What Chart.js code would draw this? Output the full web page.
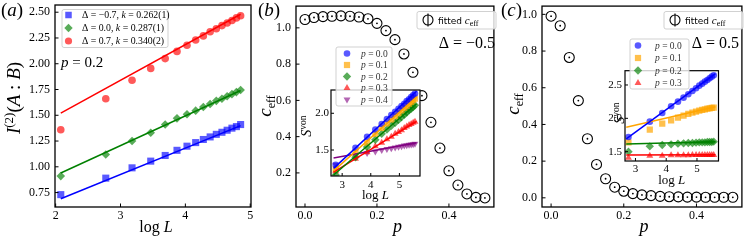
<!DOCTYPE html>
<html><head><meta charset="utf-8">
<script src="https://cdn.jsdelivr.net/npm/chart.js@4"></script>
<style>
html,body{margin:0;padding:0;background:#fff}
body{position:relative;width:748px;height:242px;overflow:hidden}
canvas{position:absolute}
</style></head><body>
<canvas id="ca" width="256" height="242" style="left:0;top:0"></canvas>
<canvas id="cb" width="244" height="242" style="left:256px;top:0"></canvas>
<canvas id="cc" width="248" height="242" style="left:500px;top:0"></canvas>
<canvas id="ib" width="130" height="202" style="left:296px;top:40px"></canvas>
<canvas id="ic" width="135" height="212" style="left:590px;top:30px"></canvas>
<script>
// ---------------- DATA ----------------
// panel (a): x = log L
const logLa = [2.079,2.773,3.178,3.466,3.689,3.871,4.025,4.159,4.277,4.382,4.477,4.564,4.644,4.718,4.787,4.852];
const blueA  = [0.73,0.89,0.99,1.055,1.11,1.16,1.20,1.235,1.265,1.29,1.315,1.335,1.355,1.375,1.39,1.41];
const greenA = [0.91,1.12,1.25,1.33,1.41,1.47,1.51,1.545,1.58,1.61,1.64,1.66,1.685,1.705,1.725,1.745];
const redA   = [1.36,1.66,1.84,1.955,2.05,2.12,2.18,2.23,2.27,2.31,2.34,2.37,2.395,2.42,2.445,2.465];
const fitXa = [2.079,4.852];
const fitBlueA = [0.69,1.40];
const fitGreenA = [0.94,1.74];
const fitRedA = [1.52,2.48];
const legendA = ["Δ = −0.7, ", "Δ = 0.0, ", "Δ = 0.7, "];
const kA = ["0.262(1)", "0.287(1)", "0.340(2)"];
const xTicksA = [2,3,4,5];
const yTicksA = [0.75,1.00,1.25,1.50,1.75,2.00,2.25,2.50];

// panels (b), (c): c_eff vs p
const pVals = [0,0.025,0.05,0.075,0.1,0.125,0.15,0.175,0.2,0.225,0.25,0.275,0.3,0.325,0.35,0.375,0.4,0.425,0.45,0.475,0.5];
const ceffB = [1.046,1.057,1.062,1.064,1.066,1.064,1.06,1.05,1.025,0.985,0.935,0.856,0.755,0.626,0.479,0.337,0.212,0.133,0.084,0.065,0.062];
const ceffC = [0.99,0.938,0.765,0.53,0.322,0.182,0.104,0.058,0.036,0.023,0.016,0.012,0.008,0.006,0.005,0.004,0.004,0.003,0.003,0.003,0.003];
const pTicks = [0.0,0.2,0.4];
const yTicksB = [0.2,0.4,0.6,0.8,1.0];
const yTicksC = [0.0,0.2,0.4,0.6,0.8,1.0];

// insets: S_von vs log L
const logLin = [2.773,3.466,3.871,4.159,4.382,4.564,4.718,4.852,4.970,5.075,5.170,5.257,5.338,5.412,5.481,5.545];
const fitXin = [2.70,5.60];
const inB_p0 = [1.30,1.53,1.68,1.78,1.855,1.92,1.975,2.02,2.06,2.10,2.13,2.165,2.19,2.22,2.245,2.27];
const inB_p1 = [1.24,1.47,1.60,1.72,1.80,1.86,1.915,1.96,2.00,2.04,2.075,2.10,2.13,2.155,2.18,2.20];
const inB_p2 = [1.16,1.40,1.54,1.64,1.72,1.78,1.83,1.87,1.91,1.95,1.98,2.01,2.04,2.06,2.085,2.11];
const inB_p3 = [1.21,1.38,1.47,1.55,1.60,1.645,1.68,1.72,1.745,1.77,1.80,1.82,1.84,1.855,1.87,1.885];
const inB_p4 = [1.30,1.42,1.46,1.48,1.50,1.515,1.525,1.535,1.545,1.55,1.56,1.565,1.57,1.575,1.58,1.585];
const fitB_p0 = [1.25,2.30];
const fitB_p1 = [1.215,2.22];
const fitB_p2 = [1.16,2.13];
const fitB_p3 = [1.20,1.89];
const fitB_p4 = [1.39,1.60];
const inC_p0 = [1.72,1.95,2.08,2.18,2.25,2.31,2.36,2.41,2.45,2.49,2.52,2.55,2.575,2.60,2.625,2.645];
const inC_p1 = [1.64,1.83,1.92,1.97,2.01,2.04,2.065,2.085,2.10,2.115,2.125,2.135,2.145,2.15,2.155,2.16];
const inC_p2 = [1.50,1.58,1.60,1.61,1.62,1.625,1.63,1.63,1.635,1.64,1.64,1.64,1.645,1.645,1.645,1.65];
const inC_p3 = [1.41,1.44,1.44,1.445,1.445,1.445,1.445,1.45,1.45,1.45,1.45,1.45,1.45,1.45,1.45,1.45];
const fitC_p0 = [1.693,2.67];
const fitC_p1 = [1.865,2.175];
const fitC_p2 = [1.615,1.65];
const fitC_p3 = [1.45,1.455];
const pLegend = ["0.0","0.1","0.2","0.3","0.4"];
const inXTicks = [3,4,5];
const inYTicksB = [1.5,2.0];
const inYTicksC = [1.5,2.0,2.5];

// ---------------- HELPERS ----------------
const SERIF = '"Liberation Serif","DejaVu Serif",serif';
const SANS = '"DejaVu Sans",sans-serif';
const F = (s, it) => (it ? 'italic ' : '') + s + 'px ' + SERIF;
const COL = {blue:'#0000ff', green:'#008000', red:'#ff0000', orange:'#ffa500', purple:'#800080'};
const FILL = {blue:'rgba(0,0,255,0.65)', green:'rgba(0,128,0,0.65)', red:'rgba(255,0,0,0.65)',
              orange:'rgba(255,165,0,0.7)', purple:'rgba(128,0,128,0.6)'};

function rich(ctx, parts, x, y, o) {
  o = o || {};
  ctx.save();
  ctx.translate(x, y);
  if (o.rot) ctx.rotate(o.rot);
  let w = 0;
  for (const p of parts) { ctx.font = p[1]; w += ctx.measureText(p[0]).width; }
  let cx = o.align === 'center' ? -w / 2 : (o.align === 'right' ? -w : 0);
  ctx.textBaseline = 'alphabetic';
  ctx.fillStyle = o.color || '#000';
  for (const p of parts) { ctx.font = p[1]; ctx.fillText(p[0], cx, p[2] || 0); cx += ctx.measureText(p[0]).width; }
  ctx.restore();
}
function markerPath(ctx, st, x, y, r) {
  ctx.beginPath();
  if (st === 'circle') ctx.arc(x, y, r, 0, Math.PI * 2);
  else if (st === 'rect') { const s = r * Math.SQRT1_2; ctx.rect(x - s, y - s, 2 * s, 2 * s); }
  else if (st === 'rectRot') { ctx.moveTo(x, y - r); ctx.lineTo(x + r, y); ctx.lineTo(x, y + r); ctx.lineTo(x - r, y); ctx.closePath(); }
  else if (st === 'triUp' || st === 'triDown') {
    const s = st === 'triUp' ? -1 : 1;
    for (let k = 0; k < 3; k++) {
      const a = k * 2 * Math.PI / 3;
      const px = x + Math.sin(a) * r, py = y + s * Math.cos(a) * r;
      k ? ctx.lineTo(px, py) : ctx.moveTo(px, py);
    }
    ctx.closePath();
  }
}
function drawMarker(ctx, m, x, y) {
  ctx.save();
  if (m.style === 'err') {
    ctx.strokeStyle = '#000'; ctx.lineWidth = 1.1;
    ctx.beginPath(); ctx.arc(x, y, 5, 0, Math.PI * 2); ctx.stroke();
    ctx.beginPath(); ctx.moveTo(x, y - 6.5); ctx.lineTo(x, y + 6.5); ctx.stroke();
  } else {
    markerPath(ctx, m.style, x, y, m.r);
    ctx.fillStyle = m.fill; ctx.fill();
  }
  ctx.restore();
}
function drawLegend(ctx, L) {
  ctx.save();
  const r = 2;
  ctx.beginPath();
  ctx.moveTo(L.x + r, L.y); ctx.lineTo(L.x + L.w - r, L.y); ctx.arcTo(L.x + L.w, L.y, L.x + L.w, L.y + r, r);
  ctx.lineTo(L.x + L.w, L.y + L.h - r); ctx.arcTo(L.x + L.w, L.y + L.h, L.x + L.w - r, L.y + L.h, r);
  ctx.lineTo(L.x + r, L.y + L.h); ctx.arcTo(L.x, L.y + L.h, L.x, L.y + L.h - r, r);
  ctx.lineTo(L.x, L.y + r); ctx.arcTo(L.x, L.y, L.x + r, L.y, r); ctx.closePath();
  ctx.fillStyle = 'rgba(255,255,255,0.8)'; ctx.fill();
  ctx.strokeStyle = 'rgba(204,204,204,0.9)'; ctx.lineWidth = 1; ctx.stroke();
  for (const row of L.rows) {
    drawMarker(ctx, row.m, L.mx, row.y);
    rich(ctx, row.parts, L.tx, row.y + L.dy, {color: L.color || '#000'});
  }
  ctx.restore();
}

const DECO = {};
Chart.register({
  id: 'deco',
  beforeDatasetsDraw(chart) {
    const d = DECO[chart.canvas.id]; if (!d || !d.bg) return;
    const a = chart.chartArea, ctx = chart.ctx;
    ctx.save(); ctx.fillStyle = d.bg; ctx.fillRect(a.left, a.top, a.right - a.left, a.bottom - a.top); ctx.restore();
  },
  afterDraw(chart) {
    const d = DECO[chart.canvas.id]; if (!d) return;
    const ctx = chart.ctx, a = chart.chartArea;
    ctx.save();
    ctx.strokeStyle = '#000'; ctx.lineWidth = 1;
    const xs = chart.scales.x, ys = chart.scales.y;
    for (const t of xs.ticks) {
      const px = xs.getPixelForValue(t.value);
      ctx.beginPath(); ctx.moveTo(px, a.bottom); ctx.lineTo(px, a.bottom - d.tickLen); ctx.stroke();
    }
    for (const t of ys.ticks) {
      const py = ys.getPixelForValue(t.value);
      ctx.beginPath(); ctx.moveTo(a.left, py); ctx.lineTo(a.left + d.tickLen, py); ctx.stroke();
    }
    ctx.lineWidth = d.frameW;
    ctx.strokeRect(a.left, a.top, a.right - a.left, a.bottom - a.top);
    ctx.restore();
    ctx.save();
    ctx.translate(-d.ox, -d.oy);
    for (const t of d.texts) rich(ctx, t.parts, t.x, t.y, t);
    if (d.legend) drawLegend(ctx, d.legend);
    ctx.restore();
  }
});

function pts(xs, ys) { return xs.map((x, i) => ({x: x, y: ys[i]})); }
function lineDs(xs, ys, col, w) {
  return {data: pts(xs, ys), showLine: true, borderColor: col, borderWidth: w || 1.5, pointRadius: 0, fill: false};
}
function markDs(xs, ys, style, r, fill, rot) {
  return {data: pts(xs, ys), showLine: false, pointStyle: style, pointRadius: r, pointRotation: rot || 0,
          pointBackgroundColor: fill, pointBorderWidth: 0, pointBorderColor: fill};
}
function axis(o) {
  return {
    type: 'linear', min: o.min, max: o.max,
    afterBuildTicks: s => { s.ticks = o.ticks.map(v => ({value: v})); },
    afterFit: s => {
      if (o.w !== undefined) s.width = o.w;
      if (o.h !== undefined) s.height = o.h;
      s.paddingLeft = 0; s.paddingRight = 0; s.paddingTop = 0; s.paddingBottom = 0;
    },
    ticks: {callback: v => o.fmt(v), font: {family: SERIF, size: o.fs, lineHeight: 1}, color: '#000',
            padding: o.pad, autoSkip: false, maxRotation: 0, minRotation: 0},
    grid: {display: false, drawTicks: false},
    border: {display: false}
  };
}
function make(id, datasets, pad, xa, ya) {
  return new Chart(document.getElementById(id), {
    type: 'scatter',
    data: {datasets: datasets},
    options: {
      responsive: false, animation: false, devicePixelRatio: 1, events: [],
      layout: {padding: {top: pad.top, right: pad.right, left: 0, bottom: 0}},
      plugins: {legend: {display: false}, tooltip: {enabled: false}},
      scales: {x: axis(xa), y: axis(ya)}
    }
  });
}

// ---------------- PANEL (a) ----------------
const logLparts = s => [['log ', F(s)], ['L', F(s, 1)]];
DECO.ca = {
  ox: 0, oy: 0, tickLen: 3.5, frameW: 1.3,
  texts: [
    {parts: [['(', F(19)], ['a', F(19, 1)], [')', F(19)]], x: 1, y: 16},
    {parts: logLparts(16), x: 156, y: 232, align: 'center'},
    {parts: [['I', F(19, 1)], ['(2)', F(13), -7.5], ['(', F(19)], ['A', F(19, 1)], [' : ', F(19)], ['B', F(19, 1)], [')', F(19)]],
     x: 20, y: 98, align: 'center', rot: -Math.PI / 2},
    {parts: [['p', F(15, 1)], [' = 0.2', F(15)]], x: 61, y: 67}
  ],
  legend: {
    x: 62, y: 9.5, w: 106, h: 38, mx: 68.5, tx: 82, dy: 3.2,
    rows: [
      {y: 15, m: {style: 'rect', r: 4.6, fill: FILL.blue}, parts: [[legendA[0], F(9.8)], ['k', F(9.8, 1)], [' = ' + kA[0], F(9.8)]]},
      {y: 28, m: {style: 'rectRot', r: 4.2, fill: FILL.green}, parts: [[legendA[1], F(9.8)], ['k', F(9.8, 1)], [' = ' + kA[1], F(9.8)]]},
      {y: 41, m: {style: 'circle', r: 3.6, fill: FILL.red}, parts: [[legendA[2], F(9.8)], ['k', F(9.8, 1)], [' = ' + kA[2], F(9.8)]]}
    ]
  }
};
make('ca', [
  lineDs(fitXa, fitBlueA, COL.blue),
  lineDs(fitXa, fitGreenA, COL.green),
  lineDs(fitXa, fitRedA, COL.red),
  markDs(logLa, blueA, 'rect', 5, FILL.blue),
  markDs(logLa, greenA, 'rectRot', 4.3, FILL.green),
  markDs(logLa, redA, 'circle', 3.8, FILL.red)
], {top: 5, right: 3},
  {min: 1.99, max: 5.012, ticks: xTicksA, fmt: v => String(v), fs: 12, pad: 3, h: 35},
  {min: 0.61, max: 2.57, ticks: yTicksA, fmt: v => v.toFixed(2), fs: 12, pad: 5, w: 55});

// ---------------- PANEL (b) ----------------
const ceffLegend = x => ({
  x: x, y: 11.5, w: 79, h: 17.5, mx: x + 11, tx: x + 21, dy: 3.5,
  rows: [{y: 20, m: {style: 'err'}, parts: [['fitted ', '9px ' + SANS], ['c', F(11, 1)], ['eff', F(8), 2.5]]}]
});
DECO.cb = {
  ox: 256, oy: 0, tickLen: 3.5, frameW: 1.3,
  texts: [
    {parts: [['(', F(19)], ['b', F(19, 1)], [')', F(19)]], x: 258, y: 16},
    {parts: [['p', F(18, 1)]], x: 397.5, y: 232, align: 'center'},
    {parts: [['c', F(19, 1)], ['eff', F(12), 4]], x: 271, y: 106, align: 'center', rot: -Math.PI / 2},
    {parts: [['Δ = −0.5', F(16)]], x: 495, y: 48, align: 'right'}
  ],
  legend: ceffLegend(417)
};
make('cb', [
  markDs(pVals, ceffB, 'circle', 0.9, '#000'),
  {data: pts(pVals, ceffB), showLine: false, pointStyle: 'circle', pointRadius: 5, pointBorderWidth: 1.1,
   pointBorderColor: '#000', pointBackgroundColor: 'rgba(0,0,0,0)'}
], {top: 5, right: 1},
  {min: -0.025, max: 0.525, ticks: pTicks, fmt: v => v.toFixed(1), fs: 12, pad: 3, h: 35},
  {min: 0.012, max: 1.12, ticks: yTicksB, fmt: v => v.toFixed(1), fs: 12, pad: 5, w: 40});

// ---------------- PANEL (c) ----------------
DECO.cc = {
  ox: 500, oy: 0, tickLen: 3.5, frameW: 1.3,
  texts: [
    {parts: [['(', F(19)], ['c', F(19, 1)], [')', F(19)]], x: 501, y: 16},
    {parts: [['p', F(18, 1)]], x: 644, y: 232, align: 'center'},
    {parts: [['c', F(19, 1)], ['eff', F(12), 4]], x: 519, y: 104, align: 'center', rot: -Math.PI / 2},
    {parts: [['Δ = 0.5', F(16)]], x: 739, y: 48, align: 'right'}
  ],
  legend: ceffLegend(664)
};
make('cc', [
  markDs(pVals, ceffC, 'circle', 0.9, '#000'),
  {data: pts(pVals, ceffC), showLine: false, pointStyle: 'circle', pointRadius: 5, pointBorderWidth: 1.1,
   pointBorderColor: '#000', pointBackgroundColor: 'rgba(0,0,0,0)'}
], {top: 5, right: 2},
  {min: -0.025, max: 0.525, ticks: pTicks, fmt: v => v.toFixed(1), fs: 12, pad: 3, h: 35},
  {min: -0.05, max: 1.045, ticks: yTicksC, fmt: v => v.toFixed(1), fs: 12, pad: 5, w: 42});

// ---------------- INSETS ----------------
const MK = [
  {style: 'circle', r: 3.3, fill: FILL.blue},
  {style: 'rect', r: 4.4, fill: FILL.orange},
  {style: 'rectRot', r: 4.2, fill: FILL.green},
  {style: 'triUp', r: 4, fill: FILL.red},
  {style: 'triDown', r: 4, fill: FILL.purple}
];
const pRow = (i, y) => ({y: y, m: MK[i], parts: [['p', F(9.5, 1)], [' = ' + pLegend[i], F(9.5)]]});
const Sparts = [['S', F(14, 1)], ['von', F(9.5), -5.5]];

DECO.ib = {
  ox: 296, oy: 40, tickLen: 3, frameW: 1.2, bg: '#fff',
  texts: [
    {parts: logLparts(13), x: 375.5, y: 199, align: 'center'},
    {parts: Sparts, x: 311, y: 126, align: 'center', rot: -Math.PI / 2}
  ],
  legend: {x: 336, y: 47, w: 56, h: 59, mx: 347, tx: 361, dy: 3, color: '#333',
           rows: [pRow(0, 53.5), pRow(1, 65), pRow(2, 76.5), pRow(3, 88), pRow(4, 99.5)]}
};
make('ib', [
  lineDs(fitXin, fitB_p0, COL.blue),
  lineDs(fitXin, fitB_p1, COL.orange),
  lineDs(fitXin, fitB_p2, COL.green),
  lineDs(fitXin, fitB_p3, COL.red),
  lineDs(fitXin, fitB_p4, COL.purple),
  markDs(logLin, inB_p0, 'circle', 3.3, FILL.blue),
  markDs(logLin, inB_p1, 'rect', 4.4, FILL.orange),
  markDs(logLin, inB_p2, 'rectRot', 4.2, FILL.green),
  markDs(logLin, inB_p3, 'triangle', 4, FILL.red),
  markDs(logLin, inB_p4, 'triangle', 4, FILL.purple, 180)
], {top: 50, right: 6},
  {min: 2.61, max: 5.72, ticks: inXTicks, fmt: v => String(v), fs: 11, pad: 4, h: 66},
  {min: 1.146, max: 2.317, ticks: inYTicksB, fmt: v => v.toFixed(1), fs: 11, pad: 2, w: 35});

DECO.ic = {
  ox: 590, oy: 30, tickLen: 3, frameW: 1.2, bg: '#fff',
  texts: [
    {parts: logLparts(13), x: 671.7, y: 184, align: 'center'},
    {parts: Sparts, x: 624, y: 113, align: 'center', rot: -Math.PI / 2}
  ],
  legend: {x: 630, y: 39, w: 59, h: 50, mx: 638, tx: 655, dy: 3, color: '#333',
           rows: [pRow(0, 45.5), pRow(1, 58), pRow(2, 70.5), pRow(3, 83)]}
};
make('ic', [
  lineDs(fitXin, fitC_p0, COL.blue),
  lineDs(fitXin, fitC_p1, COL.orange),
  lineDs(fitXin, fitC_p2, COL.green),
  lineDs(fitXin, fitC_p3, COL.red),
  markDs(logLin, inC_p0, 'circle', 3.3, FILL.blue),
  markDs(logLin, inC_p1, 'rect', 4.4, FILL.orange),
  markDs(logLin, inC_p2, 'rectRot', 4.2, FILL.green),
  markDs(logLin, inC_p3, 'triangle', 4, FILL.red)
], {top: 40.7, right: 6.5},
  {min: 2.66, max: 5.70, ticks: inXTicks, fmt: v => String(v), fs: 11, pad: 3, h: 81},
  {min: 1.36, max: 2.714, ticks: inYTicksC, fmt: v => v.toFixed(1), fs: 11, pad: 3, w: 35});
</script>
</body></html>
